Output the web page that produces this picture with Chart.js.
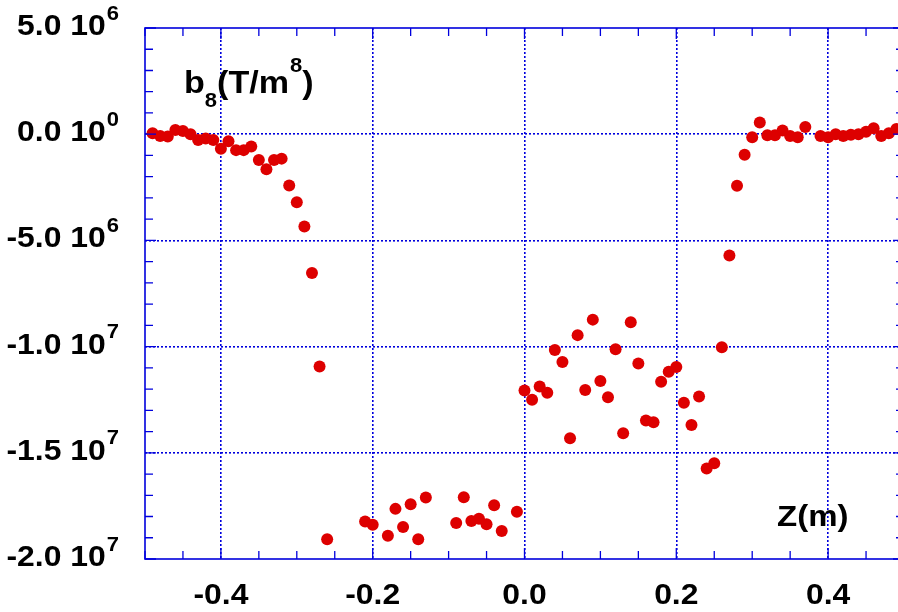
<!DOCTYPE html>
<html>
<head>
<meta charset="utf-8">
<script src="https://cdn.jsdelivr.net/npm/chart.js@4"></script>
<style>
  html, body { margin: 0; padding: 0; background: #fff; overflow: hidden; }
  #wrap { width: 898px; height: 612px; overflow: hidden; }
</style>
</head>
<body>
<div id="wrap"><canvas id="grafico" width="910" height="612"></canvas></div>
<script>
// datos: posicion Z (m) y b8 (T/m^8)
const zPos = [
  -0.49, -0.48, -0.47, -0.46, -0.45, -0.44, -0.43, -0.42, -0.41, -0.40,
  -0.39, -0.38, -0.37, -0.36, -0.35, -0.34, -0.33, -0.32, -0.31, -0.30,
  -0.29, -0.28, -0.27, -0.26, -0.21, -0.20, -0.18, -0.17, -0.16, -0.15,
  -0.14, -0.13, -0.09, -0.08, -0.07, -0.06, -0.05, -0.04, -0.03, -0.01,
  0.00, 0.01, 0.02, 0.03, 0.04, 0.05, 0.06, 0.07, 0.08, 0.09,
  0.10, 0.11, 0.12, 0.13, 0.14, 0.15, 0.16, 0.17, 0.18, 0.19,
  0.20, 0.21, 0.22, 0.23, 0.24, 0.25, 0.26, 0.27, 0.28, 0.29,
  0.30, 0.31, 0.32, 0.33, 0.34, 0.35, 0.36, 0.37, 0.39, 0.40,
  0.41, 0.42, 0.43, 0.44, 0.45, 0.46, 0.47, 0.48, 0.49
];
const b8 = [
  0.05e6, -0.08e6, -0.11e6, 0.20e6, 0.15e6, 0.00, -0.27e6, -0.20e6, -0.27e6, -0.68e6,
  -0.33e6, -0.75e6, -0.75e6, -0.58e6, -1.21e6, -1.65e6, -1.21e6, -1.15e6, -2.42e6, -3.20e6,
  -4.35e6, -6.53e6, -10.94e6, -19.07e6, -18.24e6, -18.39e6, -18.90e6, -17.64e6, -18.49e6, -17.42e6,
  -19.07e6, -17.11e6, -18.31e6, -17.09e6, -18.21e6, -18.10e6, -18.36e6, -17.47e6, -18.68e6, -17.78e6,
  -12.07e6, -12.50e6, -11.88e6, -12.17e6, -10.16e6, -10.73e6, -14.31e6, -9.46e6, -12.04e6, -8.73e6,
  -11.62e6, -12.38e6, -10.12e6, -14.08e6, -8.85e6, -10.80e6, -13.48e6, -13.56e6, -11.66e6, -11.18e6,
  -10.96e6, -12.64e6, -13.69e6, -12.35e6, -15.74e6, -15.49e6, -10.03e6, -5.71e6, -2.43e6, -0.97e6,
  -0.14e6, 0.55e6, -0.05e6, -0.05e6, 0.17e6, -0.08e6, -0.14e6, 0.34e6, -0.08e6, -0.14e6,
  0.00, -0.08e6, -0.03e6, 0.00, 0.12e6, 0.28e6, -0.08e6, 0.05e6, 0.24e6
];

// etiquetas de los ejes
const xTickValues = [-0.4, -0.2, 0.0, 0.2, 0.4];
const xTickLabels = ['-0.4', '-0.2', '0.0', '0.2', '0.4'];
const yTickValues = [5e6, 0, -5e6, -1e7, -1.5e7, -2e7];
const yTickMant   = ['5.0 10', '0.0 10', '-5.0 10', '-1.0 10', '-1.5 10', '-2.0 10'];
const yTickExp    = ['6', '0', '6', '7', '7', '7'];

const AZUL = '#0000dd';
const FUENTE = '"Liberation Sans", Arial, Helvetica, sans-serif';
const ESTIRA = 1.1; // la fuente del original es algo mas ancha

const esMayor = (v, paso) => Math.abs(v / paso - Math.round(v / paso)) < 1e-6;

// escribe texto en negrita, algo estirado en horizontal; devuelve el ancho
function texto(ctx, str, x, y, size, align) {
  ctx.font = 'bold ' + size + 'px ' + FUENTE;
  const w = ctx.measureText(str).width * ESTIRA;
  let x0 = x;
  if (align === 'center') x0 = x - w / 2;
  if (align === 'right') x0 = x - w;
  ctx.save();
  ctx.translate(x0, y);
  ctx.scale(ESTIRA, 1);
  ctx.textAlign = 'left';
  ctx.fillText(str, 0, 0);
  ctx.restore();
  return w;
}
function ancho(ctx, str, size) {
  ctx.font = 'bold ' + size + 'px ' + FUENTE;
  return ctx.measureText(str).width * ESTIRA;
}

// ejes, marcas hacia dentro y textos
const marcoPlugin = {
  id: 'marco',
  afterDatasetsDraw(chart) {
    const { ctx, chartArea: a, scales: { x, y } } = chart;
    ctx.save();
    ctx.strokeStyle = AZUL;
    ctx.lineWidth = 1.6;
    ctx.strokeRect(a.left, a.top, a.right - a.left, a.bottom - a.top);

    ctx.lineWidth = 1.3;
    ctx.beginPath();
    x.ticks.forEach(t => {
      const px = x.getPixelForValue(t.value);
      const len = esMayor(t.value, 0.2) ? 11 : 8;
      ctx.moveTo(px, a.bottom); ctx.lineTo(px, a.bottom - len);
      ctx.moveTo(px, a.top);    ctx.lineTo(px, a.top + len);
    });
    y.ticks.forEach(t => {
      const py = y.getPixelForValue(t.value);
      const len = esMayor(t.value, 5e6) ? 11 : 8;
      ctx.moveTo(a.left, py);  ctx.lineTo(a.left + len, py);
      ctx.moveTo(a.right, py); ctx.lineTo(a.right - len, py);
    });
    ctx.stroke();

    // etiquetas
    ctx.fillStyle = '#000';
    ctx.textBaseline = 'alphabetic';
    xTickValues.forEach((v, i) => {
      texto(ctx, xTickLabels[i], x.getPixelForValue(v), 604, 29, 'center');
    });

    const bordeDer = 119;
    yTickValues.forEach((v, i) => {
      const py = y.getPixelForValue(v) + 7;
      const wExp = ancho(ctx, yTickExp[i], 20);
      texto(ctx, yTickExp[i], bordeDer - wExp, py - 15.5, 20, 'left');
      texto(ctx, yTickMant[i], bordeDer - wExp - 1, py, 29, 'right');
    });

    // titulos dentro del grafico
    let cx = 184;
    const base = 93;
    cx += texto(ctx, 'b', cx, base, 31, 'left');
    cx += texto(ctx, '8', cx, base + 14, 20, 'left');
    cx += texto(ctx, '(T/m', cx, base, 31, 'left');
    cx += texto(ctx, '8', cx + 1, base - 21, 20, 'left') + 1;
    texto(ctx, ')', cx, base, 31, 'left');

    texto(ctx, 'Z(m)', 777, 526, 30, 'left');
    ctx.restore();
  }
};

const chart = new Chart(document.getElementById('grafico').getContext('2d'), {
  type: 'scatter',
  data: {
    datasets: [{
      label: 'b8',
      data: zPos.map((z, i) => ({ x: z, y: b8[i] })),
      backgroundColor: '#dd0000',
      borderWidth: 0,
      pointRadius: 6,
      pointHoverRadius: 6
    }]
  },
  options: {
    responsive: false,
    animation: false,
    events: [],
    layout: { padding: { left: 145, top: 28, right: 6, bottom: 53 } },
    plugins: { legend: { display: false }, tooltip: { enabled: false } },
    scales: {
      x: {
        type: 'linear',
        min: -0.5, max: 0.5,
        ticks: { display: false, stepSize: 0.05 },
        grid: {
          drawTicks: false,
          lineWidth: 1.6,
          color: c => (c.tick && esMayor(c.tick.value, 0.2) && Math.abs(c.tick.value) < 0.45) ? AZUL : 'rgba(0,0,0,0)'
        },
        border: { display: false, dash: [2, 2] }
      },
      y: {
        type: 'linear',
        min: -2e7, max: 5e6,
        ticks: { display: false, stepSize: 1e6 },
        grid: {
          drawTicks: false,
          lineWidth: 1.6,
          color: c => (c.tick && esMayor(c.tick.value, 5e6) && c.tick.value < 4e6 && c.tick.value > -1.9e7) ? AZUL : 'rgba(0,0,0,0)'
        },
        border: { display: false, dash: [2, 2] }
      }
    }
  },
  plugins: [marcoPlugin]
});
</script>
</body>
</html>
